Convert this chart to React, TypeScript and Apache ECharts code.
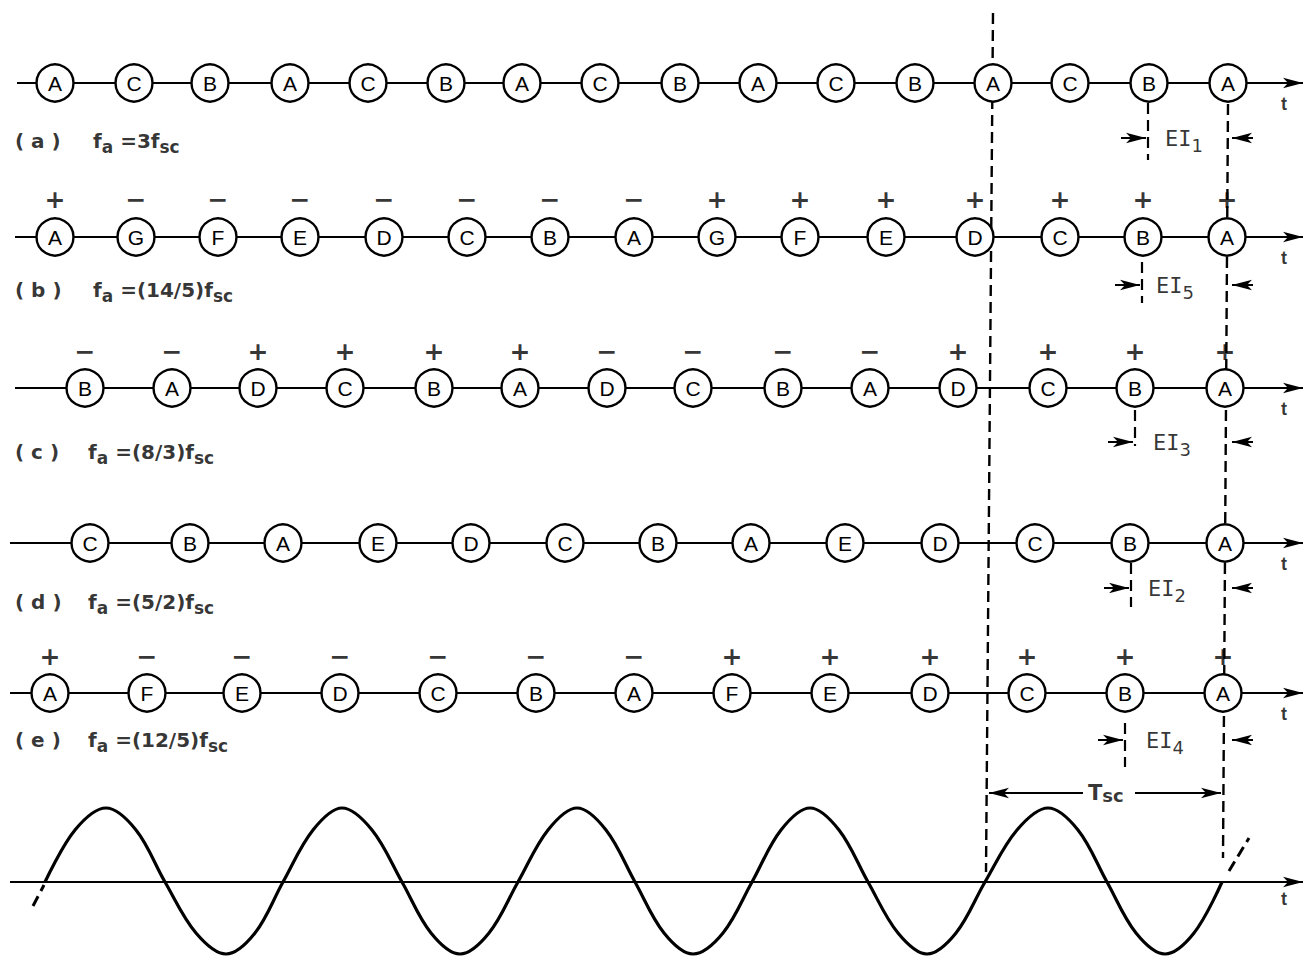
import React, { useEffect, useRef } from "react";
import * as echarts from "echarts";

const W = 1305;
const H = 957;

// ---- data: sample instants (along t) and their labels / polarities ----
const rowIds = ["( a )", "( b )", "( c )", "( d )", "( e )"];
const ratios = ["3", "(14/5)", "(8/3)", "(5/2)", "(12/5)"];
const eiIndex = ["1", "5", "3", "2", "4"];

const timesA = [55, 134, 210, 290, 368, 446, 522, 600, 680, 758, 836, 915, 993, 1070, 1149, 1228];
const labelsA = ["A", "C", "B", "A", "C", "B", "A", "C", "B", "A", "C", "B", "A", "C", "B", "A"];
const signsA: string[] = [];

const timesB = [55, 136, 218, 300, 384, 467, 550, 634, 717, 800, 886, 975, 1060, 1143, 1227];
const labelsB = ["A", "G", "F", "E", "D", "C", "B", "A", "G", "F", "E", "D", "C", "B", "A"];
const signsB = ["+", "−", "−", "−", "−", "−", "−", "−", "+", "+", "+", "+", "+", "+", "+"];

const timesC = [85, 172, 258, 345, 434, 520, 607, 693, 783, 870, 958, 1048, 1135, 1225];
const labelsC = ["B", "A", "D", "C", "B", "A", "D", "C", "B", "A", "D", "C", "B", "A"];
const signsC = ["−", "−", "+", "+", "+", "+", "−", "−", "−", "−", "+", "+", "+", "+"];

const timesD = [90, 190, 283, 378, 471, 565, 658, 751, 845, 940, 1035, 1130, 1225];
const labelsD = ["C", "B", "A", "E", "D", "C", "B", "A", "E", "D", "C", "B", "A"];
const signsD: string[] = [];

const timesE = [50, 147, 242, 340, 438, 536, 634, 732, 830, 930, 1027, 1125, 1223];
const labelsE = ["A", "F", "E", "D", "C", "B", "A", "F", "E", "D", "C", "B", "A"];
const signsE = ["+", "−", "−", "−", "−", "−", "−", "+", "+", "+", "+", "+", "+"];

// subcarrier waveform: points (t, value)
const sineT = [
  45, 75, 106, 136, 165, 196, 226, 255, 283, 313, 342, 372, 402, 431, 460, 489, 518, 548, 577, 606, 635,
  664, 693, 723, 752, 781, 810, 839, 868, 898, 927, 956, 985, 1017, 1048, 1078, 1107, 1136, 1165, 1194, 1222,
];
const sineV = [
  0, 52, 74, 52, 0, -51, -72, -51, 0, 52, 74, 52, 0, -51, -72, -51, 0, 52, 74, 52, 0,
  -51, -72, -51, 0, 52, 74, 52, 0, -51, -72, -51, 0, 52, 74, 52, 0, -51, -72, -51, 0,
];

// ---- layout ----
const rowY = [83, 237, 388, 543, 693];
const lineStart = [17, 15, 15, 10, 10];
const signY = [0, 199, 351, 0, 656];
const labelY = [141, 290, 452, 602, 740];
const formulaX = [93, 93, 88, 88, 88];
const eiY = [138, 285, 442, 588, 740];
const eiTextX = [1165, 1156, 1153, 1148, 1146];
const eiB = [1148, 1142, 1135, 1131, 1125];
const eiDash = [[103, 160], [262, 303], [410, 446], [563, 607], [723, 767]];
const axisY = 882;

const rows = [
  { t: timesA, l: labelsA, s: signsA },
  { t: timesB, l: labelsB, s: signsB },
  { t: timesC, l: labelsC, s: signsC },
  { t: timesD, l: labelsD, s: signsD },
  { t: timesE, l: labelsE, s: signsE },
];

const INK = "#000";
const SANS = "Liberation Sans";
const DJ = "DejaVu Sans";

function App() {
  const ref = useRef<HTMLDivElement>(null);
  useEffect(() => {
    if (!ref.current) return;
    const chart = echarts.init(ref.current, undefined, { renderer: "svg" });

    const arrowEnd = (x1: number, y1: number, x2: number, y2: number, w = 2) => [
      { coord: [x1, y1], symbol: "none", lineStyle: { color: INK, width: w, type: "solid" } },
      { coord: [x2, y2], symbol: "arrow", symbolSize: [8, 20] },
    ];
    const dashed = (x1: number, y1: number, x2: number, y2: number, w = 2.4) => [
      { coord: [x1, y1], symbol: "none", lineStyle: { color: INK, width: w, type: [11, 6] } },
      { coord: [x2, y2], symbol: "none" },
    ];

    const mlData: any[] = [];
    rows.forEach((r, i) => {
      mlData.push(arrowEnd(lineStart[i], rowY[i], 1303, rowY[i]));
      mlData.push(arrowEnd(eiB[i] - 27, eiY[i], eiB[i] - 2, eiY[i], 2));
      mlData.push(arrowEnd(1253, eiY[i], 1232, eiY[i], 2));
      mlData.push(dashed(eiB[i], eiDash[i][0], eiB[i], eiDash[i][1], 2.2));
    });
    mlData.push(dashed(993, 13, 986, 872));
    mlData.push(dashed(1228, 104, 1223, 858));
    mlData.push(arrowEnd(10, axisY, 1303, axisY));
    mlData.push(arrowEnd(1083, 793, 989, 793, 2));
    mlData.push(arrowEnd(1135, 793, 1221, 793, 2));
    mlData.push(dashed(33, 906, 44, 885, 3));
    mlData.push(dashed(1229, 871, 1249, 838, 3));

    const series: any[] = [];
    series.push({
      type: "line",
      data: [[0, -100]],
      symbol: "none",
      silent: true,
      markLine: {
        silent: true,
        animation: false,
        z: 3,
        label: { show: false },
        emphasis: { disabled: true },
        data: mlData,
      },
    });

    series.push({
      type: "line",
      data: sineT.map((t, k) => [t, axisY - sineV[k]]),
      smooth: 0.35,
      symbol: "none",
      lineStyle: { color: INK, width: 3.2 },
      z: 4,
      silent: true,
    });

    rows.forEach((r, i) => {
      series.push({
        type: "scatter",
        z: 10,
        symbol: "circle",
        symbolSize: 37,
        silent: true,
        itemStyle: { color: "#fff", borderColor: INK, borderWidth: 2.4, opacity: 1 },
        label: {
          show: true,
          position: "inside",
          formatter: "{b}",
          color: INK,
          fontSize: 21,
          fontFamily: SANS,
        },
        data: r.t.map((t, k) => ({ name: r.l[k], value: [t, rowY[i]] })),
      });
      if (r.s.length) {
        series.push({
          type: "scatter",
          z: 11,
          symbolSize: 1,
          silent: true,
          itemStyle: { color: "rgba(0,0,0,0)" },
          label: {
            show: true,
            position: "inside",
            formatter: "{b}",
            color: INK,
            fontSize: 25,
            fontWeight: "bold",
            fontFamily: DJ,
          },
          data: r.t.map((t, k) => ({ name: r.s[k], value: [t, signY[i]] })),
        });
      }
    });

    const mainRich = {
      m: { fontSize: 20, fontWeight: "bold", fontFamily: DJ, color: INK, lineHeight: 24 },
      s: { fontSize: 17, fontWeight: "bold", fontFamily: DJ, color: INK, lineHeight: 24, padding: [12, 0, 0, 0] },
      e: { fontSize: 22, fontFamily: "DejaVu Sans Mono", color: INK, lineHeight: 24 },
      n: { fontSize: 18, fontFamily: DJ, color: INK, lineHeight: 24, padding: [14, 0, 0, 0] },
      t: { fontSize: 18, fontWeight: "bold", fontFamily: SANS, color: INK },
      T: { fontSize: 21, fontWeight: "bold", fontFamily: DJ, color: INK, lineHeight: 24 },
      u: { fontSize: 18, fontWeight: "bold", fontFamily: DJ, color: INK, lineHeight: 24, padding: [5, 0, 0, 0] },
    };
    const texts: any[] = [];
    rows.forEach((_, i) => {
      texts.push({ value: [15, labelY[i]], label: { formatter: "{m|" + rowIds[i] + "}" } });
      texts.push({
        value: [formulaX[i], labelY[i]],
        label: { formatter: "{m|f}{s|a}{m| =" + ratios[i] + "f}{s|sc}" },
      });
      texts.push({
        value: [eiTextX[i], eiY[i]],
        label: { formatter: "{e|EI}{n|" + eiIndex[i] + "}" },
      });
      texts.push({ value: [1281, rowY[i] + 21], label: { formatter: "{t|t}" } });
    });
    texts.push({ value: [1281, axisY + 17], label: { formatter: "{t|t}" } });
    texts.push({ value: [1088, 793], label: { formatter: "{T|T}{u|sc}" } });

    series.push({
      type: "scatter",
      z: 12,
      symbolSize: 1,
      silent: true,
      itemStyle: { color: "rgba(0,0,0,0)" },
      label: {
        show: true,
        position: "inside",
        align: "left",
        verticalAlign: "middle",
        rich: mainRich,
      },
      data: texts,
    });

    chart.setOption({
      animation: false,
      backgroundColor: "#fff",
      grid: { left: 0, right: 0, top: 0, bottom: 0 },
      xAxis: { type: "value", min: 0, max: W, show: false },
      yAxis: { type: "value", min: 0, max: H, inverse: true, show: false },
      series,
    });
    return () => chart.dispose();
  }, []);
  return (
    <div
      ref={ref}
      style={{ position: "fixed", left: 0, top: 0, width: W, height: H, background: "#fff" }}
    />
  );
}

export default App;
